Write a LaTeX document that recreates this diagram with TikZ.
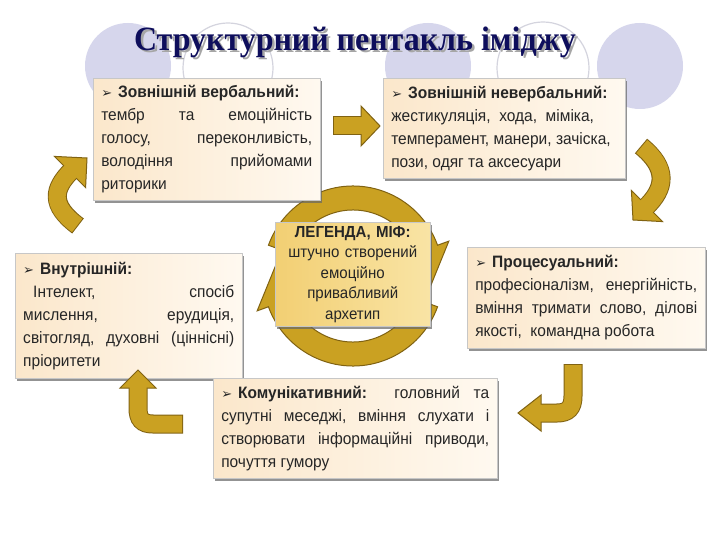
\documentclass[tikz,border=0pt]{standalone}
\usepackage{fontspec}
\setmainfont{Liberation Sans}[FakeStretch=0.94]
\newfontfamily\titlefont{Liberation Serif}[FakeStretch=0.94]
\newfontfamily\symfont{DejaVu Sans}
\usetikzlibrary{shadows}
\tolerance=10000
\hbadness=10000
\hfuzz=20pt

\definecolor{titleblue}{RGB}{14,14,92}
\definecolor{circlefill}{RGB}{214,214,236}
\definecolor{circleline}{RGB}{212,212,222}
\definecolor{boxleft}{RGB}{251,231,203}
\definecolor{boxright}{RGB}{255,249,240}
\definecolor{mythleft}{RGB}{242,207,115}
\definecolor{mythright}{RGB}{249,228,165}
\definecolor{arrowgold}{RGB}{202,161,34}
\definecolor{arrowedge}{RGB}{128,98,18}

\newcommand{\bul}{{\symfont\bfseries\fontsize{13}{13}\selectfont ➢}\hspace{6pt}}
% block arrow: band path, then head polygon
\newcommand{\goldarrow}[2]{%
  \draw[bandedge] #1;
  \filldraw[arrowhead] #2 -- cycle;
  \draw[bandfill, shorten <=1pt] #1;
}

\tikzset{
  infobox/.style={rectangle, anchor=north west, draw=black!22, line width=0.5pt,
    left color=boxleft, right color=boxright, inner xsep=8pt, inner ysep=3pt,
    font=\fontsize{16.5}{23}\selectfont, align=justify, text=black!85,
    drop shadow={shadow xshift=2pt, shadow yshift=-2.5pt, fill=black!60, opacity=0.7}},
  mythbox/.style={infobox, left color=mythleft, right color=mythright,
    inner xsep=4pt, align=center, font=\fontsize{16}{20.5}\selectfont},
  bandedge/.style={draw=arrowedge, line width=19pt},
  bandfill/.style={draw=arrowgold, line width=17pt},
  arrowhead/.style={fill=arrowgold, draw=arrowedge, line width=1pt},
  ringarrow/.style={fill=arrowgold, draw=arrowedge, line width=1pt},
}

\begin{document}
\begin{tikzpicture}[x=1pt, y=-1pt]
\useasboundingbox (0,0) rectangle (720,540);
\fill[white] (0,0) rectangle (720,540);

% background circles
\fill[circlefill] (128,66) circle[radius=43];
\fill[circlefill] (428,66) circle[radius=43];
\fill[circlefill] (640,66) circle[radius=43];
\draw[circleline, line width=1.2pt] (228,68) circle[radius=45];
\draw[circleline, line width=1.2pt] (543,68) circle[radius=46];

% title
\node[font=\titlefont\bfseries\fontsize{34}{34}\selectfont, text=black!35] (titleshadow) at (357.5,44.5) {Структурний пентакль іміджу};
\node[font=\titlefont\bfseries\fontsize{34}{34}\selectfont, text=titleblue] (title) at (355,42) {Структурний пентакль іміджу};

% circular arrows round the myth
\begin{scope}[shift={(353,276)}]
\filldraw[ringarrow] (200:90) arc[start angle=200, end angle=340, radius=90]
  -- (340:102) -- (8:78) -- (340:54) -- (340:66)
  arc[start angle=340, end angle=200, radius=66] -- cycle;
\filldraw[ringarrow] (20:90) arc[start angle=20, end angle=160, radius=90]
  -- (160:102) -- (188:78) -- (160:54) -- (160:66)
  arc[start angle=160, end angle=20, radius=66] -- cycle;
\end{scope}

% boxes
\node[infobox, text width=211pt, minimum height=122pt] (verbal) at (93,78)
  {\bul\textbf{Зовнішній~вербальний:}\\
   тембр~та~емоційність\linebreak
   голосу,~переконливість,\linebreak
   володіння~прийомами\linebreak
   риторики};
\node[infobox, text width=226pt, minimum height=100pt] (nonverbal) at (383,78)
  {\bul\textbf{Зовнішній~невербальний:}\\
   жестикуляція,\ \ хода,\ \ міміка,\\
   темперамент, манери, зачіска,\\
   пози, одяг та аксесуари};
\node[infobox, text width=211pt, minimum height=125pt] (inner) at (15,253)
  {\bul\textbf{Внутрішній:}\\
   \hspace*{10pt}Інтелект,~спосіб\linebreak
   мислення,~ерудиція,\linebreak
   світогляд,~духовні~(ціннісні)\linebreak
   пріоритети};
\node[mythbox, text width=147pt, minimum height=104pt] (myth) at (275,222)
  {\textbf{ЛЕГЕНДА, МІФ:}\\
   штучно створений\\
   емоційно\\
   привабливий\\
   архетип};
\node[infobox, text width=222pt, minimum height=101pt] (process) at (467,247)
  {\bul\textbf{Процесуальний:}\\
   професіоналізм,~енергійність,\linebreak
   вміння~тримати~слово,~ділові\linebreak
   якості,\ \ командна робота};
\node[infobox, text width=268pt, minimum height=100pt] (comm) at (213,378)
  {\bul\textbf{Комунікативний:}~~головний~та\linebreak
   супутні~меседжі,~вміння~слухати~і\linebreak
   створювати~інформаційні~приводи,\linebreak
   почуття гумору};

% arrow ends
\coordinate (aTail) at (333,126);
\coordinate (aBase) at (363,126);
\coordinate (bTail) at (641,146);
\coordinate (bBase) at (645.6,207.4);
\coordinate (cTail) at (78,226);
\coordinate (cBase) at (71.4,170.6);
\coordinate (dTail) at (573,364);
\coordinate (dBase) at (539,413);
\coordinate (eTail) at (183,424);
\coordinate (eBase) at (138,386);

\goldarrow{(aTail) -- (aBase)}{(380,126) -- (361,106) -- (361,146)}
\goldarrow{(bTail) .. controls (668,168) and (666,188) .. (bBase)}{(633,220) -- (631.4,190.4) -- (662.6,221.6)}
\goldarrow{(cTail) .. controls (50,205) and (53,189) .. (cBase)}{(87,158) -- (54.4,156.4) -- (85.6,187.6)}
\goldarrow{(dTail) -- (573,396) .. controls (573,408) and (568,413) .. (557,413) -- (dBase)}{(518,413) -- (541,395) -- (541,431)}
\goldarrow{(eTail) -- (153,424) .. controls (142,424) and (138,419) .. (138,408) -- (eBase)}{(138,370) -- (120,388) -- (156,388)}
\end{tikzpicture}
\end{document}
